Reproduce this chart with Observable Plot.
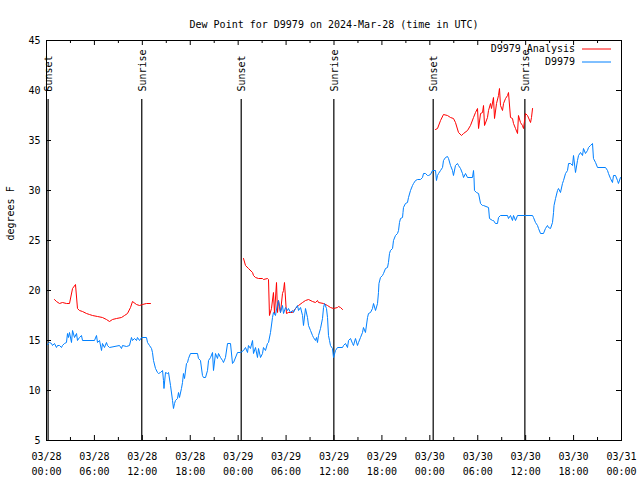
<!DOCTYPE html>
<html>
<head>
<meta charset="utf-8">
<script src="https://cdn.jsdelivr.net/npm/d3@7"></script>
<script src="https://cdn.jsdelivr.net/npm/@observablehq/plot@0.6"></script>
<style>
  html, body { margin: 0; padding: 0; background: #fff; }
</style>
</head>
<body>
<div id="chart"></div>
<script>
// Hours since 2024-03-28 00:00 UTC and dew point (°F)
const obsHours = [0,0.38,0.63,0.75,1.0,1.25,1.38,1.63,1.88,2.0,2.25,2.5,2.63,2.75,2.88,3.13,3.26,3.51,3.76,3.88,4.13,4.38,4.51,6.01,6.26,6.39,6.64,6.89,7.01,7.26,7.51,7.64,7.89,9.14,9.39,9.52,10.02,10.39,10.64,10.77,11.02,11.27,11.39,11.65,11.9,12.52,12.65,12.9,13.15,13.27,13.4,13.65,13.9,14.02,14.28,14.53,14.65,14.71,14.9,15.15,15.28,15.53,15.78,15.9,16.03,16.15,16.4,16.53,16.65,16.9,17.03,17.15,17.28,17.53,17.66,17.78,18.03,18.91,19.03,19.28,19.53,19.66,19.91,20.16,20.29,20.54,20.79,20.91,21.16,21.41,21.54,21.79,22.04,22.16,22.41,22.67,23.04,23.29,23.42,23.92,24.29,24.67,24.92,25.17,25.29,25.54,25.8,25.92,26.17,26.42,26.55,26.8,27.05,27.17,27.42,27.67,27.8,28.05,28.3,28.42,28.67,28.93,29.05,29.3,29.55,29.68,29.93,30.18,30.3,30.55,30.8,30.93,31.18,31.43,31.56,31.81,32.06,32.18,32.43,32.68,32.81,33.06,33.31,33.43,33.68,33.81,33.93,34.06,34.31,34.56,34.69,34.81,35.06,35.19,35.31,35.44,35.56,35.81,35.94,36.19,36.44,37.07,37.19,37.44,37.69,37.82,38.07,38.32,38.44,38.69,38.94,39.07,39.32,39.57,39.69,39.94,40.2,40.32,40.57,40.82,40.95,41.2,41.45,41.57,41.63,41.82,42.07,42.2,42.45,42.7,42.82,42.95,43.07,43.33,43.45,43.7,43.95,44.08,44.2,44.33,44.58,44.64,44.7,44.95,45.2,45.33,45.58,45.83,45.96,46.21,46.46,46.83,47.08,47.21,47.46,47.71,47.83,48.08,48.33,48.71,48.83,48.96,49.09,49.34,49.59,49.71,49.96,50.21,50.34,50.59,50.84,50.96,51.21,51.46,51.59,51.84,52.09,52.22,52.47,52.72,53.34,53.47,53.53,53.59,53.84,54.1,54.35,54.6,54.72,55.35,55.47,55.85,55.97,56.22,56.47,56.6,56.85,57.73,57.85,58.1,58.35,58.48,58.73,58.98,59.98,60.86,60.98,61.23,61.48,61.61,61.86,62.23,62.48,62.73,62.86,63.11,63.36,63.49,63.55,63.74,63.99,64.11,64.36,64.61,64.74,64.99,65.24,65.37,65.62,65.87,65.99,66.24,66.49,66.62,66.87,67.12,67.24,67.49,67.74,67.87,68.12,68.37,68.49,68.75,69.0,70.0,70.25,70.37,70.62,70.87,71.0,71.25,71.5,71.62,71.87,72.0];
const obsValues = [14.5,14.8,14.7,14.5,14.7,14.3,14.5,14.5,14.3,14.5,14.7,14.8,15.7,15.3,15.8,14.8,16.0,15.3,15.7,15.0,15.3,15.5,15.0,15.0,15.5,14.8,15.0,14.0,14.7,14.3,14.8,14.5,14.3,14.5,14.2,14.5,14.4,14.5,15.3,15.0,15.2,15.0,15.3,15.0,15.3,15.3,14.8,14.5,14.2,13.8,13.0,12.2,11.8,11.7,11.8,12.0,11.0,10.2,11.8,11.7,11.8,10.5,9.0,8.2,8.7,9.0,9.2,9.8,9.3,10.2,10.8,11.7,11.2,12.7,12.8,13.2,13.7,13.7,13.2,13.0,11.5,11.3,11.3,12.0,13.0,13.3,13.8,12.0,13.7,13.2,13.7,13.3,13.0,12.8,13.3,14.7,14.7,12.7,12.8,13.8,13.8,14.0,14.3,13.8,14.5,14.2,15.0,13.7,14.3,13.3,14.2,13.3,13.7,14.3,14.0,14.7,14.8,15.8,17.3,17.8,17.5,18.7,19.0,17.8,18.5,17.7,18.3,18.0,18.2,17.8,18.0,17.8,18.2,18.5,18.0,18.3,17.5,16.5,18.2,17.3,16.5,16.0,15.5,15.3,15.0,15.3,14.8,15.5,16.2,17.2,18.3,18.7,18.2,17.3,15.5,15.0,14.5,14.2,13.3,14.0,14.3,14.3,14.5,14.7,14.3,15.0,15.2,14.7,14.5,15.2,14.5,14.8,15.3,15.8,16.3,15.8,17.3,17.7,17.8,18.2,18.7,18.0,18.7,19.8,20.7,21.3,21.5,21.7,22.2,22.3,22.8,23.7,24.0,24.2,25.0,25.5,25.7,26.0,26.8,27.2,27.3,27.8,28.3,28.7,28.8,29.3,30.0,30.5,30.7,31.0,31.1,31.1,31.3,31.7,31.7,31.5,31.5,31.6,32.0,32.0,31.0,31.5,31.7,32.0,32.3,33.0,33.3,33.4,33.2,32.5,32.0,31.5,32.5,32.7,32.5,32.2,31.7,31.3,31.7,31.3,31.3,32.0,31.3,30.0,29.8,29.7,28.7,28.5,28.5,28.3,27.2,27.0,27.0,26.7,26.7,27.3,27.5,27.5,27.2,27.5,27.0,27.5,27.0,27.5,27.5,27.5,27.3,26.8,26.5,26.2,25.7,25.7,26.2,26.5,26.3,26.2,26.8,27.8,28.5,29.2,30.0,30.2,29.8,30.7,31.0,31.7,32.0,32.7,32.7,32.5,33.5,31.8,33.0,33.5,33.8,33.5,34.2,33.7,34.0,34.3,34.5,34.7,33.2,32.8,32.3,32.3,32.0,31.7,31.2,30.8,31.5,31.5,31.0,30.7,31.3,31.2];

const analysisHours1 = [1.0,1.25,1.63,2.0,2.5,2.88,3.26,3.63,3.88,4.13,4.51,5.01,5.38,5.76,6.39,7.01,7.51,7.89,8.26,8.77,9.39,9.77,10.14,10.52,10.77,11.27,11.65,12.02,12.52,13.02];
const analysisValues1 = [19.1,18.9,18.7,18.8,18.7,18.7,20.2,20.6,18.2,18.0,17.9,17.7,17.6,17.5,17.4,17.3,17.1,16.9,17.1,17.2,17.3,17.5,17.7,18.3,18.9,18.6,18.5,18.6,18.7,18.7];
const analysisHours2 = [24.67,24.92,25.29,25.8,25.92,26.17,26.55,27.05,27.17,27.67,27.8,27.92,28.17,28.42,28.55,28.8,28.93,29.05,29.3,29.55,29.68,29.8,30.05,30.3,30.8,31.18,31.56,32.06,32.43,32.81,33.31,33.68,33.93,34.06,34.69,35.19,35.56,35.94,36.44,36.56,36.81,37.07];
const analysisValues2 = [23.2,22.5,22.2,21.8,21.5,21.3,21.2,21.2,21.1,21.2,21.1,17.5,18.2,19.8,17.7,20.8,17.8,19.0,17.8,19.7,20.0,20.8,17.7,17.8,17.8,18.2,18.5,18.8,19.0,19.1,18.9,18.8,19.0,18.8,18.7,18.5,18.3,18.2,18.3,18.4,18.3,18.1];
const analysisHours3 = [48.71,48.96,49.34,49.71,50.21,50.59,50.96,51.21,51.59,51.97,52.22,52.72,53.09,53.47,53.72,53.97,54.1,54.35,54.6,54.72,54.85,55.22,55.35,55.6,55.72,55.97,56.1,56.35,56.6,56.72,56.85,57.1,57.23,57.48,57.73,57.85,58.1,58.35,58.48,58.73,58.98,59.1,59.35,59.6,59.73,59.98,60.23,60.61,60.73,60.86];
const analysisValues3 = [36.1,36.2,37.0,37.6,37.5,37.3,37.2,36.8,35.8,35.5,35.7,36.0,36.5,37.3,37.8,38.2,36.2,37.7,37.8,38.5,36.5,37.3,38.0,38.7,38.2,39.3,37.2,38.7,39.5,40.2,38.5,38.0,38.7,39.2,39.5,39.8,37.3,37.2,36.7,36.2,35.7,37.5,36.8,36.5,36.2,37.7,37.5,36.8,37.3,38.2];

const sunHours = [0.2, 11.93, 24.38, 35.98, 48.42, 59.9];
const sunLabels = ["Sunset", "Sunrise", "Sunset", "Sunrise", "Sunset", "Sunrise"];

const yTicks = [5, 10, 15, 20, 25, 30, 35, 40, 45];
const titleText = "Dew Point for D9979 on 2024-Mar-28 (time in UTC)";
const yLabel = "degrees F";
const legendLabels = ["D9979 Analysis", "D9979"];
const legendColors = ["#ff0000", "#0080ff"];

const base = Date.UTC(2024, 2, 28);
const toDate = h => new Date(base + h * 3600000);

const obs = obsHours.map((h, i) => ({t: toDate(h), v: obsValues[i]}));
const analysis = [
  [analysisHours1, analysisValues1],
  [analysisHours2, analysisValues2],
  [analysisHours3, analysisValues3]
].flatMap(([hs, vs], s) => hs.map((h, i) => ({t: toDate(h), v: vs[i], seg: s})));
const sun = sunHours.map((h, i) => ({t: toDate(h), label: sunLabels[i]}));

const start = toDate(0), end = toDate(72);
const majorTicks = d3.utcHour.every(6).range(start, toDate(72.01));
const minorTicks = d3.utcHour.every(3).range(start, toDate(72.01)).filter(d => d.getUTCHours() % 6 !== 0);

const font = "'DejaVu Sans Mono', monospace";

const chart = Plot.plot({
  width: 640,
  height: 480,
  marginLeft: 46,
  marginRight: 19,
  marginTop: 40,
  marginBottom: 40,
  style: {fontFamily: font, fontSize: "10px", background: "white", color: "black"},
  x: {type: "utc", domain: [start, end]},
  y: {domain: [5, 45]},
  marks: [
    // ticks (inward, mirrored)
    Plot.ruleX(majorTicks, {insetTop: 395, stroke: "black"}),
    Plot.ruleX(majorTicks, {insetBottom: 395, stroke: "black"}),
    Plot.ruleX(minorTicks, {insetTop: 397, stroke: "black"}),
    Plot.ruleX(minorTicks, {insetBottom: 397, stroke: "black"}),
    Plot.ruleY(yTicks, {insetRight: 570, stroke: "black"}),
    Plot.ruleY(yTicks, {insetLeft: 570, stroke: "black"}),
    Plot.axisX({ticks: majorTicks, tickSize: 0, tickPadding: 9, lineHeight: 1.5,
      tickFormat: d3.utcFormat("%m/%d\n%H:%M"), label: null, fill: "black"}),
    Plot.axisY({ticks: yTicks, tickSize: 0, tickPadding: 6, label: null, fill: "black"}),
    // sunrise / sunset
    Plot.ruleX(sun, {x: "t", insetTop: 59, stroke: "black", strokeWidth: 1.2}),
    Plot.text(sun, {x: "t", y: () => 39.9, text: "label", rotate: -90, dx: 1,
      textAnchor: "start", lineAnchor: "middle", fill: "black"}),
    // series
    Plot.line(analysis, {x: "t", y: "v", z: "seg", stroke: legendColors[0], strokeWidth: 1}),
    Plot.line(obs, {x: "t", y: "v", stroke: legendColors[1], strokeWidth: 1}),
    Plot.frame({stroke: "black"}),
    // title and y label
    Plot.text([titleText], {frameAnchor: "top", dy: -20, fill: "black"}),
    Plot.text([yLabel], {frameAnchor: "left", dx: -36, rotate: -90, fill: "black"})
  ]
});

// legend (text + sample lines) in the top-right of the frame
const svg = d3.select(chart);
legendLabels.forEach((label, i) => {
  const yy = 49 + i * 13;
  svg.append("text")
    .attr("x", 575).attr("y", yy).attr("dy", "0.32em")
    .attr("text-anchor", "end").attr("fill", "black")
    .attr("font-family", font).attr("font-size", 10)
    .text(label);
  svg.append("line")
    .attr("x1", 582).attr("x2", 611).attr("y1", yy).attr("y2", yy)
    .attr("stroke", legendColors[i]).attr("stroke-width", 1);
});

document.getElementById("chart").appendChild(chart);
</script>
</body>
</html>
